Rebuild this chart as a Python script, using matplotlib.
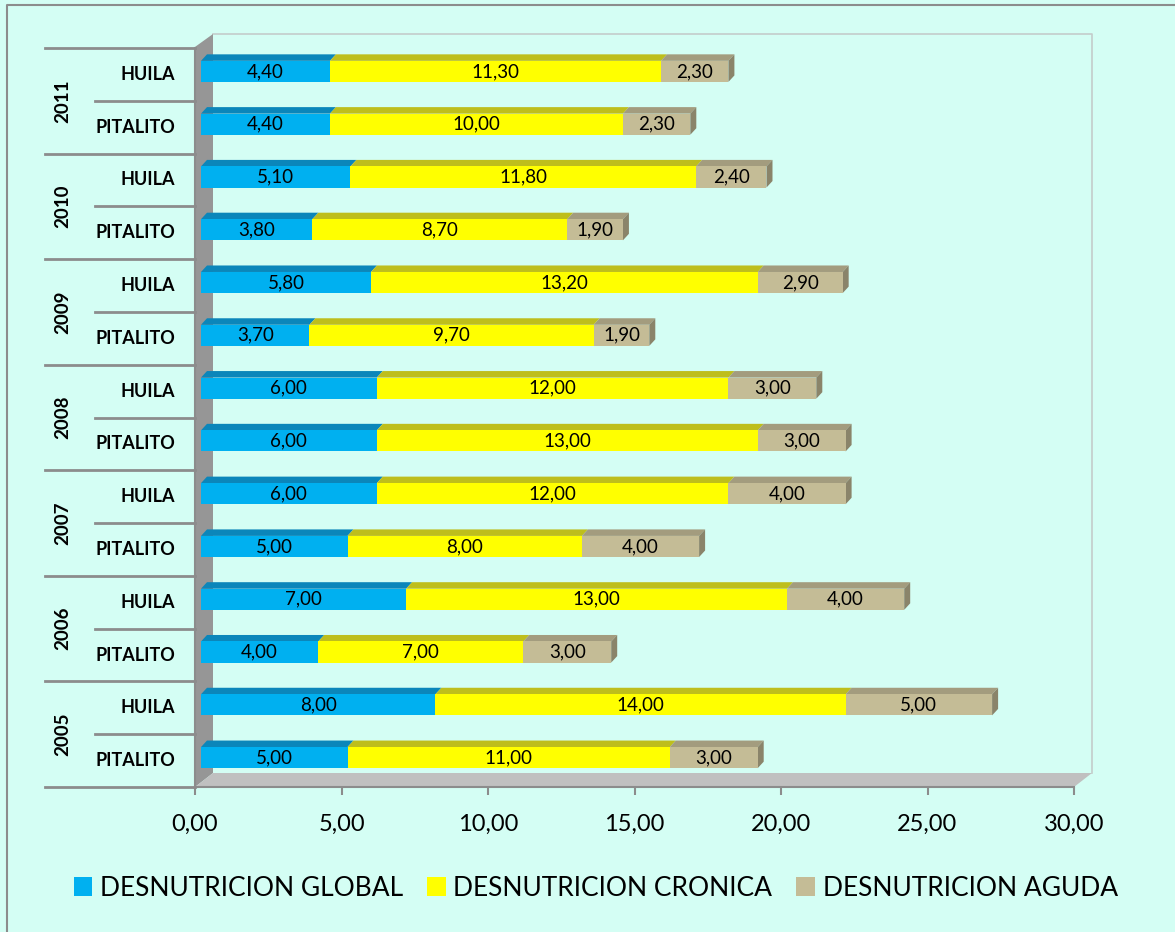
import numpy as np
import matplotlib.pyplot as plt
from matplotlib.patches import Polygon, Rectangle
from matplotlib.lines import Line2D
from matplotlib.transforms import offset_copy, blended_transform_factory

plt.rcParams['font.family'] = ['Lato', 'DejaVu Sans']

# rows listed bottom -> top
years = ['2005', '2006', '2007', '2008', '2009', '2010', '2011']
places = ['PITALITO', 'HUILA']
global_ = [5.00, 8.00, 4.00, 7.00, 5.00, 6.00, 6.00, 6.00, 3.70, 5.80, 3.80, 5.10, 4.40, 4.40]
cronica = [11.00, 14.00, 7.00, 13.00, 8.00, 12.00, 13.00, 12.00, 9.70, 13.20, 8.70, 11.80, 10.00, 11.30]
aguda = [3.00, 5.00, 3.00, 4.00, 4.00, 4.00, 3.00, 3.00, 1.90, 2.90, 1.90, 2.40, 2.30, 2.30]
series_names = ['DESNUTRICION GLOBAL', 'DESNUTRICION CRONICA', 'DESNUTRICION AGUDA']
xticks = [0, 5, 10, 15, 20, 25, 30]

bg = '#D4FEF4'
front_cols = ['#00B0F0', '#FFFF00', '#C4BC96']
top_cols = ['#0B86BA', '#BEBE1C', '#A39C7E']
side_col = '#8A846A'

W, H = 1175, 932
fig = plt.figure(figsize=(W / 100, H / 100), dpi=100, facecolor=bg)
ax_l, ax_r, ax_b, ax_t = 195, 1074, 787, 48
ax = fig.add_axes([ax_l / W, (H - ax_b) / H, (ax_r - ax_l) / W, (ax_b - ax_t) / H])
ax.patch.set_visible(False)
n = len(global_)
ax.set_xlim(0, 30)
ax.set_ylim(-0.5, n - 0.5)

# pixel -> data helpers for the 3d depth
px_x = 30 / (ax_r - ax_l)
px_y = n / (ax_b - ax_t)

# back wall, side wall and floor
D, Dy = 18 * px_x, 14 * px_y
y0, y1 = -0.5, n - 0.5
ax.add_patch(Polygon([(0, y0), (0, y1 + 0.02), (D, y1 + Dy), (D, y0 + Dy)],
                     closed=True, fc='#969696', ec='none', clip_on=False, zorder=1))
ax.add_patch(Polygon([(0, y0), (30, y0), (30 + D, y0 + Dy), (D, y0 + Dy)],
                     closed=True, fc='#C0C0C0', ec='none', clip_on=False, zorder=1))
ax.plot([D, 30 + D, 30 + D], [y1 + Dy, y1 + Dy, y0 + Dy], color='#C4CCCA', lw=1.2,
        clip_on=False, zorder=0.5)

# bars with a shallow top face and end face
bar_tr = offset_copy(ax.transData, fig, x=6, y=3, units='dots')
bh = 0.40
dx, dy = 6 * px_x, 6.5 * px_y
sx, sy = 6 * px_x, 3 * px_y
ypos = np.arange(n)
vals = [global_, cronica, aguda]
left = np.zeros(n)
for k, v in enumerate(vals):
    v = np.array(v)
    ax.barh(ypos, v, left=left, height=bh, color=front_cols[k], transform=bar_tr,
            zorder=3, clip_on=False)
    for i in range(n):
        x0, x1 = left[i] + sx, left[i] + v[i] + sx
        yt = ypos[i] + bh / 2 + sy
        ax.add_patch(Polygon([(x0, yt), (x1, yt), (x1 + dx, yt + dy), (x0 + dx, yt + dy)],
                             closed=True, fc=top_cols[k], ec='none', zorder=2.9, clip_on=False))
        ax.text(left[i] + v[i] / 2, ypos[i], f'{v[i]:.2f}'.replace('.', ','),
                transform=bar_tr, ha='center', va='center', fontsize=13.5, zorder=4)
    left = left + v

for i in range(n):
    x1 = left[i] + sx
    yb, yt = ypos[i] - bh / 2 + sy, ypos[i] + bh / 2 + sy
    ax.add_patch(Polygon([(x1, yb), (x1, yt), (x1 + dx, yt + dy), (x1 + dx, yb + dy)],
                         closed=True, fc=side_col, ec='none', zorder=2.9, clip_on=False))

# axes styling
for s in ['top', 'right']:
    ax.spines[s].set_visible(False)
ax.spines['bottom'].set_color('#8C8C8C')
ax.spines['left'].set_color('#8C8C8C')
ax.spines['bottom'].set_linewidth(1.5)
ax.spines['left'].set_linewidth(1.5)
ax.set_xticks(xticks)
ax.set_xticklabels([f'{t:.2f}'.replace('.', ',') for t in xticks], fontsize=17)
ax.tick_params(axis='x', length=6, width=1.5, color='#8C8C8C', pad=13)
ax.set_yticks([])

# two-level category labels on the left
tb = blended_transform_factory(ax.transAxes, ax.transData)
for i in range(n):
    ax.text(-0.023, i, places[i % 2], transform=tb, ha='right', va='center',
            fontsize=13, fontweight='bold')
for j, yr in enumerate(years):
    ax.text(-0.151, 2 * j + 0.5, yr, transform=tb, ha='center', va='center',
            rotation=90, fontsize=13.5, fontweight='bold')
for b in range(n + 1):
    xs = -0.171 if b % 2 == 0 else -0.114
    ax.plot([xs, 0], [b - 0.5, b - 0.5], transform=tb, color='#8C8C8C', lw=2,
            clip_on=False, zorder=1)

handles = [Rectangle((0, 0), 1, 1, fc=c, ec='none') for c in front_cols]
fig.legend(handles, series_names, loc='center', bbox_to_anchor=(0.507, 1 - 888 / H),
           ncol=3, frameon=False, fontsize=19, handlelength=0.7, handleheight=0.7,
           handletextpad=0.3, columnspacing=0.9)

# chart frame: left and top edges only
fig.lines.append(Line2D([7 / W, 7 / W, 1.0], [0.0, 1 - 5 / H, 1 - 5 / H],
                        transform=fig.transFigure, color='#8C8C8C', lw=1.5))

fig.savefig('out.png', dpi=100, facecolor=bg)
